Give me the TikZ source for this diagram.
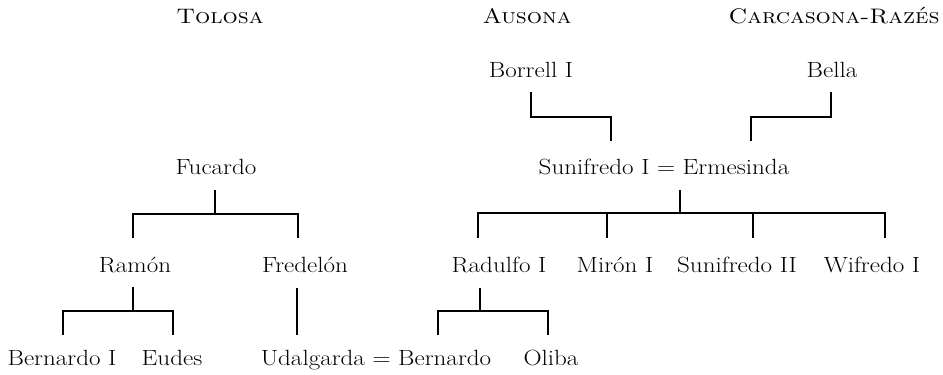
\documentclass[tikz,border=0pt]{standalone}
\newcommand{\stretchtxt}[1]{\scalebox{1.14}[1]{#1}}
\begin{document}
\begin{tikzpicture}[x=1pt,y=-1pt,
  person/.style={inner sep=0pt,anchor=base,font=\fontsize{22}{26}\selectfont},
  region/.style={inner sep=0pt,anchor=base,font=\fontsize{21}{26}\selectfont\scshape},
  link/.style={line width=1.8pt,line cap=butt,line join=miter}]
\useasboundingbox (0,0) rectangle (943,375);
% region titles
\node[region] (tol) at (220,23) {\stretchtxt{Tolosa}};
\node[region] (aus) at (527,23) {\stretchtxt{Ausona}};
\node[region] (car) at (834,23) {\stretchtxt{Carcasona-Razés}};
% generation 1
\node[person] (borrell) at (531,77) {\stretchtxt{Borrell I}};
\node[person] (bella) at (832,77) {\stretchtxt{Bella}};
% generation 2
\node[person] (fucardo) at (216,174) {\stretchtxt{Fucardo}};
\node[person] (suni) at (664,174) {\stretchtxt{Sunifredo I = Ermesinda}};
% generation 3
\node[person] (ramon) at (135,272) {\stretchtxt{Ramón}};
\node[person] (fred) at (305,272) {\stretchtxt{Fredelón}};
\node[person] (radulfo) at (499,272) {\stretchtxt{Radulfo I}};
\node[person] (miron) at (615,272) {\stretchtxt{Mirón I}};
\node[person] (suni2) at (737,272) {\stretchtxt{Sunifredo II}};
\node[person] (wif) at (872,272) {\stretchtxt{Wifredo I}};
% generation 4
\node[person] (bern1) at (62,365) {\stretchtxt{Bernardo I}};
\node[person] (eudes) at (172,365) {\stretchtxt{Eudes}};
\node[person] (udal) at (376,365) {\stretchtxt{Udalgarda = Bernardo}};
\node[person] (oliba) at (551,365) {\stretchtxt{Oliba}};
% junction coordinates
\coordinate (jb1) at (531,92);   \coordinate (jb2) at (611,117);  \coordinate (jb3) at (611,141);
\coordinate (jl1) at (831,92);   \coordinate (jl2) at (751,117);  \coordinate (jl3) at (751,141);
\coordinate (jf) at (215,190);   \coordinate (jfy) at (0,214);
\coordinate (js) at (680,190);   \coordinate (jsy) at (0,213);
\coordinate (jr) at (133,287);   \coordinate (jry) at (0,311);
\coordinate (jd) at (480,288);   \coordinate (jdy) at (0,311);
% Borrell & Bella -> Sunifredo = Ermesinda
\draw[link] (jb1) |- (jb2) -- (jb3);
\draw[link] (jl1) |- (jl2) -- (jl3);
% Fucardo -> Ramon, Fredelon
\draw[link] (jf) -- (jf |- jfy);
\draw[link] (133,238) |- (298,214) -- (298,238);
% Sunifredo -> four sons
\draw[link] (js) -- (js |- jsy);
\draw[link] (478,238) |- (885,213) -- (885,238);
\draw[link] (607,213) -- (607,238);
\draw[link] (753,213) -- (753,238);
% Ramon -> Bernardo I, Eudes
\draw[link] (jr) -- (jr |- jry);
\draw[link] (63,335) |- (173,311) -- (173,335);
% Fredelon -> Udalgarda
\draw[link] (297,288) -- (297,335);
% Radulfo -> Bernardo, Oliba
\draw[link] (jd) -- (jd |- jdy);
\draw[link] (438,335) |- (548,311) -- (548,335);
\end{tikzpicture}
\end{document}
